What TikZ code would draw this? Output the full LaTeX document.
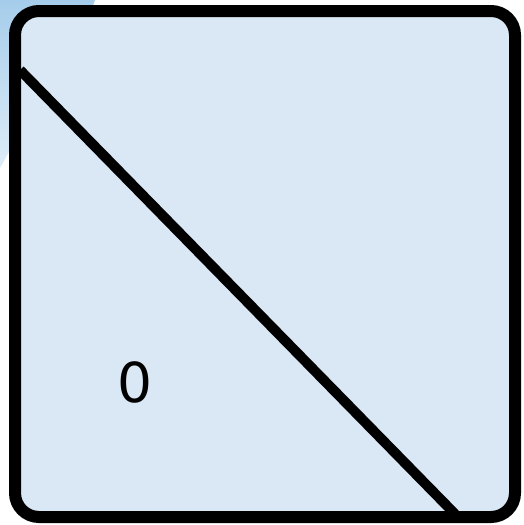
\documentclass[tikz,border=0pt]{standalone}
\usepackage{fontspec}
\setmainfont{DejaVu Sans}
\definecolor{boxfill}{RGB}{218,232,245}
\definecolor{glowA}{RGB}{165,205,235}
\definecolor{glowB}{RGB}{222,236,247}
\begin{document}
\begin{tikzpicture}[x=1pt,y=-1pt,
  frame/.style={draw=black,line width=12pt,rounded corners=24pt},
  diag/.style={draw=black,line width=10pt},
  lbl/.style={font=\fontsize{55}{60}\selectfont,text=black,inner sep=0pt}]
\useasboundingbox (0,0) rectangle (523,525);
% faint blue glow at top-left outside the frame
\shade[top color=glowA,bottom color=glowB] (0,0) -- (95,0) to[bend left=10] (10,150) -- (0,168) -- cycle;
\fill[boxfill] (15,11) [rounded corners=24pt] rectangle (515,517);
\draw[diag] (20,70) -- (455,514);
\draw[frame] (15,11) rectangle (515,517);
\node[lbl] (zero) at (135,382) {0};
\end{tikzpicture}
\end{document}
